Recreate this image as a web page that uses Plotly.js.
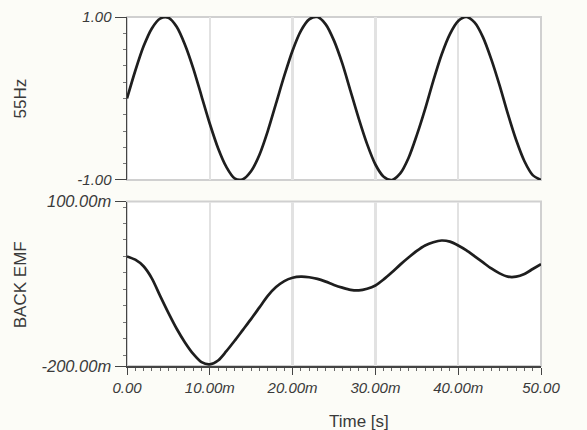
<!DOCTYPE html>
<html>
<head>
<meta charset="utf-8">
<script src="https://cdn.plot.ly/plotly-3.0.1.min.js"></script>
<style>html,body{margin:0;padding:0;background:#fcfcf7;}#chart{width:587px;height:430px;}</style>
</head>
<body>
<div id="chart"></div>
<script>
// time in ms
var timeMs = [0,1,2,3,4,5,6,7,8,9,10,11,12,13,14,15,16,17,18,19,20,21,22,23,24,25,26,27,28,29,30,31,32,33,34,35,36,37,38,39,40,41,42,43,44,45,46,47,48,49,50];
// 55Hz signal
var sig55Hz = [0.00,0.34,0.64,0.86,0.98,0.99,0.88,0.66,0.37,0.03,-0.31,-0.61,-0.84,-0.98,-0.99,-0.89,-0.69,-0.40,-0.06,0.28,0.59,0.83,0.97,1.00,0.91,0.71,0.43,0.09,-0.25,-0.56,-0.81,-0.96,-1.00,-0.92,-0.73,-0.45,-0.13,0.22,0.54,0.79,0.95,1.00,0.93,0.75,0.48,0.16,-0.19,-0.51,-0.77,-0.94,-1.00];
// Back EMF in milli-units
var backEmf = [0,-6,-18,-40,-72,-103,-132,-157,-178,-193,-197,-190,-173,-154,-134,-114,-93,-72,-56,-45,-39,-37,-38,-41,-46,-52,-57,-61,-62,-59,-53,-42,-29,-15,-2,10,20,26,29,27,20,11,0,-11,-22,-31,-37,-37,-32,-23,-14];

var xTickVals = [0,10,20,30,40,50];
var xTickText = ['0.00','10.00m','20.00m','30.00m','40.00m','50.00'];
var y1TickVals = [-1,1];
var y1TickText = ['-1.00','1.00'];
var y2TickVals = [-200,100];
var y2TickText = ['-200.00m','100.00m'];
var title1 = '55Hz', title2 = 'BACK EMF', xTitle = 'Time [s]';

var lineStyle = {color:'#1e1e1e', width:2.7, shape:'spline', smoothing:0.8};
var traces = [
  {x:timeMs, y:sig55Hz, xaxis:'x', yaxis:'y', mode:'lines', line:lineStyle, hoverinfo:'x+y'},
  {x:timeMs, y:backEmf, xaxis:'x2', yaxis:'y2', mode:'lines', line:lineStyle, hoverinfo:'x+y'}
];
var fam = 'Liberation Sans, Arial, sans-serif';
var tickFont = {family:fam, size:15, color:'#3a3a3a', style:'italic'};
var tickFont2 = {family:fam, size:16.5, color:'#3a3a3a', style:'italic'};
var titleFont = {family:fam, size:17, color:'#3a3a3a'};
var gridColor = '#e2e2e2';
var layout = {
  width:587, height:430,
  margin:{l:127, r:46, t:17, b:64},
  paper_bgcolor:'#fcfcf7', plot_bgcolor:'#ffffff',
  showlegend:false,
  xaxis:{domain:[0,1], anchor:'y', range:[0,50], tickvals:xTickVals, showticklabels:false, ticks:'',
         showgrid:true, gridcolor:gridColor, gridwidth:2.5, zeroline:false, showline:false, matches:'x2'},
  yaxis:{domain:[0.533,1], anchor:'x', range:[-1,1], tickvals:y1TickVals, ticktext:y1TickText,
         ticks:'outside', ticklen:11, tickcolor:'#444', tickfont:tickFont, showgrid:false, zeroline:false,
         showline:true, linecolor:'#444', linewidth:1.5,
         minor:{dtick:0.2, ticks:'outside', ticklen:3, tickcolor:'#777', showgrid:false}},
  xaxis2:{domain:[0,1], anchor:'y2', range:[0,50], tickvals:xTickVals, ticktext:xTickText,
         ticks:'outside', ticklen:7, tickcolor:'#444', tickfont:tickFont,
         showgrid:true, gridcolor:gridColor, gridwidth:2.5, zeroline:false, showline:true, linecolor:'#444', linewidth:1.5,
         minor:{dtick:1, ticks:'outside', ticklen:3, tickcolor:'#666', showgrid:false}},
  yaxis2:{domain:[0,0.471], anchor:'x2', range:[-200,100], tickvals:y2TickVals, ticktext:y2TickText,
         ticks:'outside', ticklen:11, tickcolor:'#444', tickfont:tickFont2, showgrid:false, zeroline:false,
         showline:true, linecolor:'#444', linewidth:1.5,
         minor:{dtick:30, ticks:'outside', ticklen:3, tickcolor:'#777', showgrid:false}},
  shapes:[
    {type:'rect', xref:'x domain', yref:'y domain', x0:0, x1:1, y0:0, y1:1, line:{color:'#d0d0d0', width:2}, layer:'below'},
    {type:'rect', xref:'x2 domain', yref:'y2 domain', x0:0, x1:1, y0:0, y1:1, line:{color:'#d0d0d0', width:2}, layer:'below'}
  ],
  annotations:[
    {text:title1, xref:'paper', yref:'paper', x:-0.258, y:0.767, textangle:-90, showarrow:false, font:titleFont, xanchor:'center', yanchor:'middle'},
    {text:title2, xref:'paper', yref:'paper', x:-0.258, y:0.232, textangle:-90, showarrow:false, font:titleFont, xanchor:'center', yanchor:'middle'},
    {text:xTitle, xref:'paper', yref:'paper', x:0.56, y:-0.16, showarrow:false, font:titleFont, xanchor:'center', yanchor:'middle'}
  ]
};
Plotly.newPlot('chart', traces, layout, {displayModeBar:false, staticPlot:true});
</script>
</body>
</html>
